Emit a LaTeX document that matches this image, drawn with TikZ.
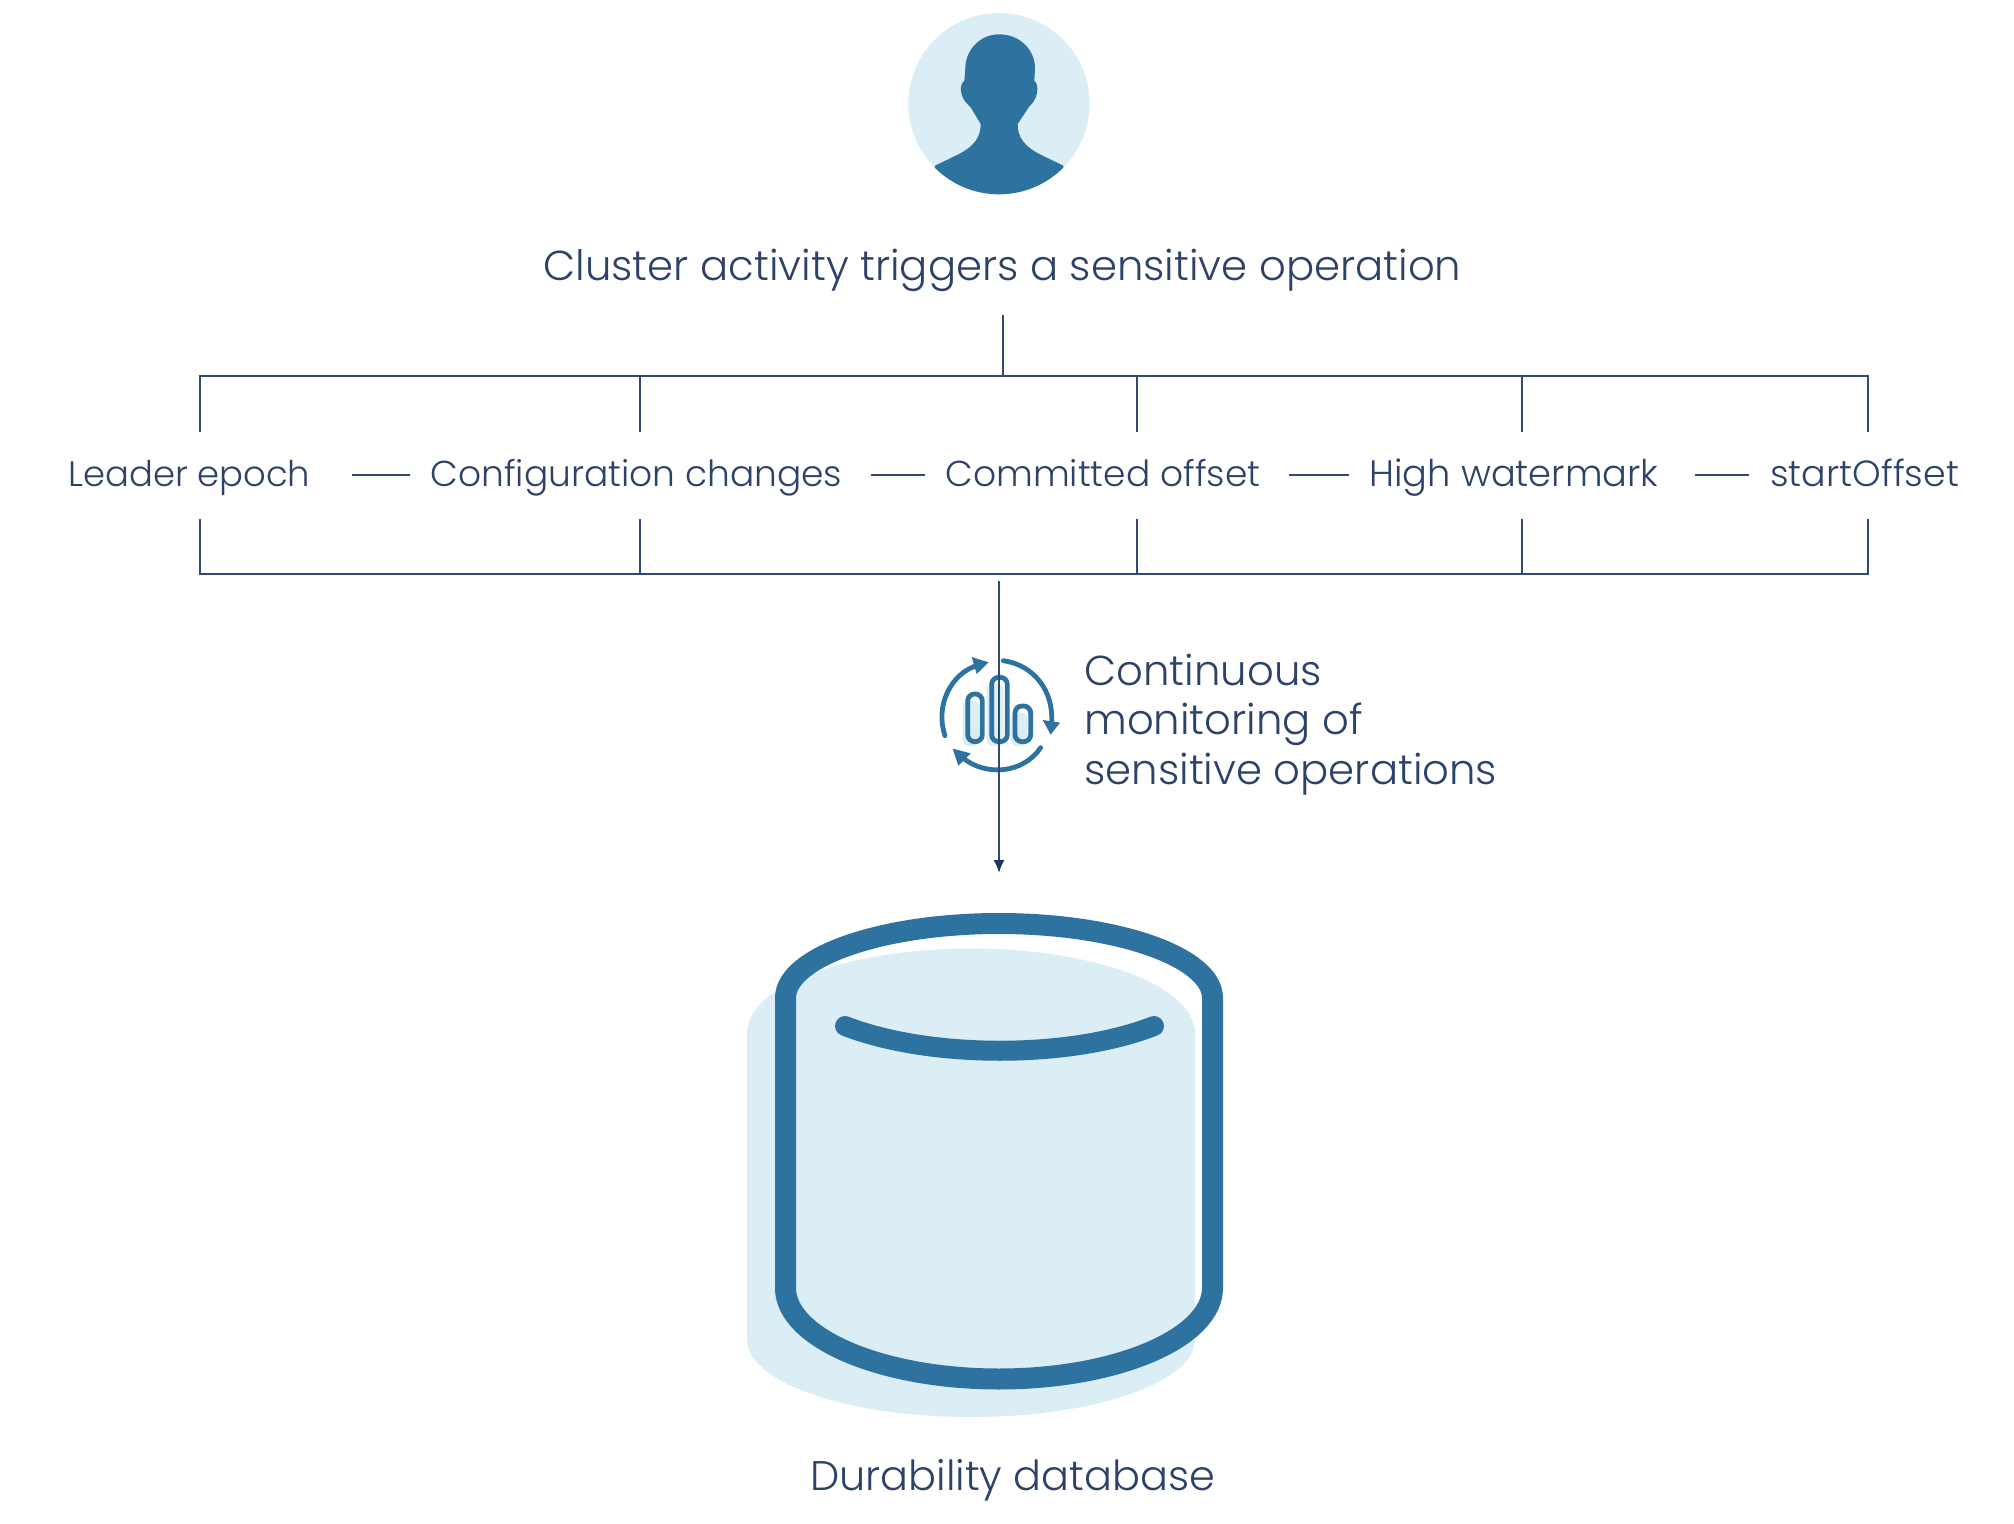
\documentclass[tikz,border=0pt]{standalone}
\usepackage{fontspec}
\setmainfont{Poppins Light}
\usetikzlibrary{arrows.meta}
\definecolor{ink}{HTML}{2D4268}
\definecolor{wire}{HTML}{2F4A75}
\definecolor{tip}{HTML}{1E3560}
\definecolor{steel}{HTML}{2E72A0}
\definecolor{pale}{HTML}{DBEEF6}
\tikzset{
  lab/.style={inner sep=0pt,text=ink,font=\fontsize{18}{22}\selectfont,anchor=base west},
  biglab/.style={lab,font=\fontsize{20.9}{25}\selectfont},
  wireline/.style={draw=wire,line width=1.1pt},
  iconline/.style={draw=steel,line width=2.4pt,line cap=round},
  iconhead/.style={fill=steel,draw=none},
  bar/.style={draw=steel,line width=2.4pt,rounded corners=3.5pt},
  barshadow/.style={fill=pale,draw=none,rounded corners=3pt},
}
\begin{document}
\begin{tikzpicture}[x=0.5pt,y=-0.5pt]
\useasboundingbox (0,0) rectangle (2014,1524);
% person
\begin{scope}[shift={(880,0)},x=0.16667pt,y=-0.16667pt]
  \fill[pale] (357,311) circle [radius=272];
  \begin{scope}
    \clip (357,311) circle [radius=272];
    \fill[steel] (357,103) .. controls (420,103) and (465,150) .. (465,205)
      -- (463,243) .. controls (476,250) and (476,290) .. (455,312)
      -- (446,322) -- (413,372)
      .. controls (413,410) and (430,440) .. (490,468)
      -- (550,497) -- (560,620) -- (150,620) -- (165,497) -- (225,468)
      .. controls (285,440) and (302,410) .. (302,372)
      -- (272,322) -- (262,312)
      .. controls (238,290) and (238,250) .. (253,243)
      -- (256,205) .. controls (256,150) and (300,103) .. (357,103) -- cycle;
  \end{scope}
\end{scope}
% title and label nodes
\node[biglab] (title) at (543,281) {Cluster activity triggers a sensitive operation};
\node[lab,font=\fontsize{17.7}{22}\selectfont] (n1) at (68,487) {Leader epoch};
\node[lab] (n2) at (430,487) {Configuration changes};
\node[lab] (n3) at (945,487) {Committed offset};
\node[lab,font=\fontsize{18.4}{22}\selectfont] (n4) at (1369,487) {High watermark};
\node[lab,font=\fontsize{18.2}{22}\selectfont] (n5) at (1770,487) {startOffset};
\node[biglab] (c1) at (1084,685) {Continuous};
\node[biglab] (c2) at (1084,734) {monitoring of};
\node[biglab] (c3) at (1084,784) {sensitive operations};
\node[lab,font=\fontsize{20.7}{25}\selectfont] (db) at (810,1490) {Durability database};
% tree coordinates
\coordinate (rootT) at (1003,315);
\coordinate (rootB) at (1003,376);
\coordinate (a1) at (200,376); \coordinate (a1e) at (200,432);
\coordinate (a2) at (640,376); \coordinate (a2e) at (640,432);
\coordinate (a3) at (1137,376); \coordinate (a3e) at (1137,432);
\coordinate (a4) at (1522,376); \coordinate (a4e) at (1522,432);
\coordinate (a5) at (1868,376); \coordinate (a5e) at (1868,432);
\coordinate (b1) at (200,574); \coordinate (b1e) at (200,519);
\coordinate (b2) at (640,574); \coordinate (b2e) at (640,519);
\coordinate (b3) at (1137,574); \coordinate (b3e) at (1137,519);
\coordinate (b4) at (1522,574); \coordinate (b4e) at (1522,519);
\coordinate (b5) at (1868,574); \coordinate (b5e) at (1868,519);
\draw[wireline] (rootT) -- (rootB);
\draw[wireline] (a1e) -- (a1) -- (a5) -- (a5e);
\draw[wireline] (b1e) -- (b1) -- (b5) -- (b5e);
\foreach \k in {2,3,4} {
  \draw[wireline] (a\k) -- (a\k e);
  \draw[wireline] (b\k) -- (b\k e);
}
\coordinate (d1a) at (352,475); \coordinate (d1b) at (410,475);
\coordinate (d2a) at (871,475); \coordinate (d2b) at (925,475);
\coordinate (d3a) at (1289,475); \coordinate (d3b) at (1349,475);
\coordinate (d4a) at (1695,475); \coordinate (d4b) at (1749,475);
\foreach \k in {1,2,3,4} \draw[wireline] (d\k a) -- (d\k b);
% icon (behind the arrow)
\begin{scope}[shift={(900,570)},x=0.16667pt,y=-0.16667pt]
  \fill[barshadow] (188,392) rectangle (238,528);
  \fill[barshadow] (260,342) rectangle (310,528);
  \fill[barshadow] (332,428) rectangle (382,528);
  \draw[bar] (203,372) rectangle (247,515);
  \draw[bar] (275,322) rectangle (322,515);
  \draw[bar] (345,408) rectangle (392,515);
  \draw[iconline] (135,497) .. controls (105,410) and (150,310) .. (235,285);
  \draw[iconline] (310,272) .. controls (400,285) and (460,360) .. (455,455);
  \draw[iconline] (422,533) .. controls (370,610) and (260,620) .. (190,565);
  \fill[iconhead] (266,277) -- (215,261) -- (230,312) -- cycle;
  \fill[iconhead] (452,494) -- (480,458) -- (428,450) -- cycle;
  \fill[iconhead] (158,536) -- (175,587) -- (212,550) -- cycle;
\end{scope}
% arrow
\coordinate (flowS) at (999,581);
\coordinate (flowE) at (999,873);
\draw[wireline,-{Latex[length=6.5pt,width=5.6pt,color=tip]}] (flowS) -- (flowE);
% database
\fill[pale] (747,1033) .. controls (747,986) and (848,948.5) .. (971,948.5)
  .. controls (1094,948.5) and (1195,986) .. (1195,1033)
  -- (1195,1339) .. controls (1195,1383) and (1094,1417) .. (971,1417)
  .. controls (848,1417) and (747,1383) .. (747,1339) -- cycle;
\begin{scope}
  \clip (760,900) rectangle (1223,1400);
  \draw[steel,line width=10.5pt] (785.5,998)
    .. controls (785.5,957) and (881.6,923.5) .. (999,923.5)
    .. controls (1116.4,923.5) and (1212.5,957) .. (1212.5,998)
    -- (1212.5,1288) .. controls (1212.5,1338) and (1116.4,1379) .. (999,1379)
    .. controls (881.6,1379) and (785.5,1338) .. (785.5,1288) -- cycle;
\end{scope}
\draw[steel,line width=10pt,line cap=round] (845,1026) .. controls (930,1059) and (1070,1059) .. (1154,1026);
\end{tikzpicture}
\end{document}
